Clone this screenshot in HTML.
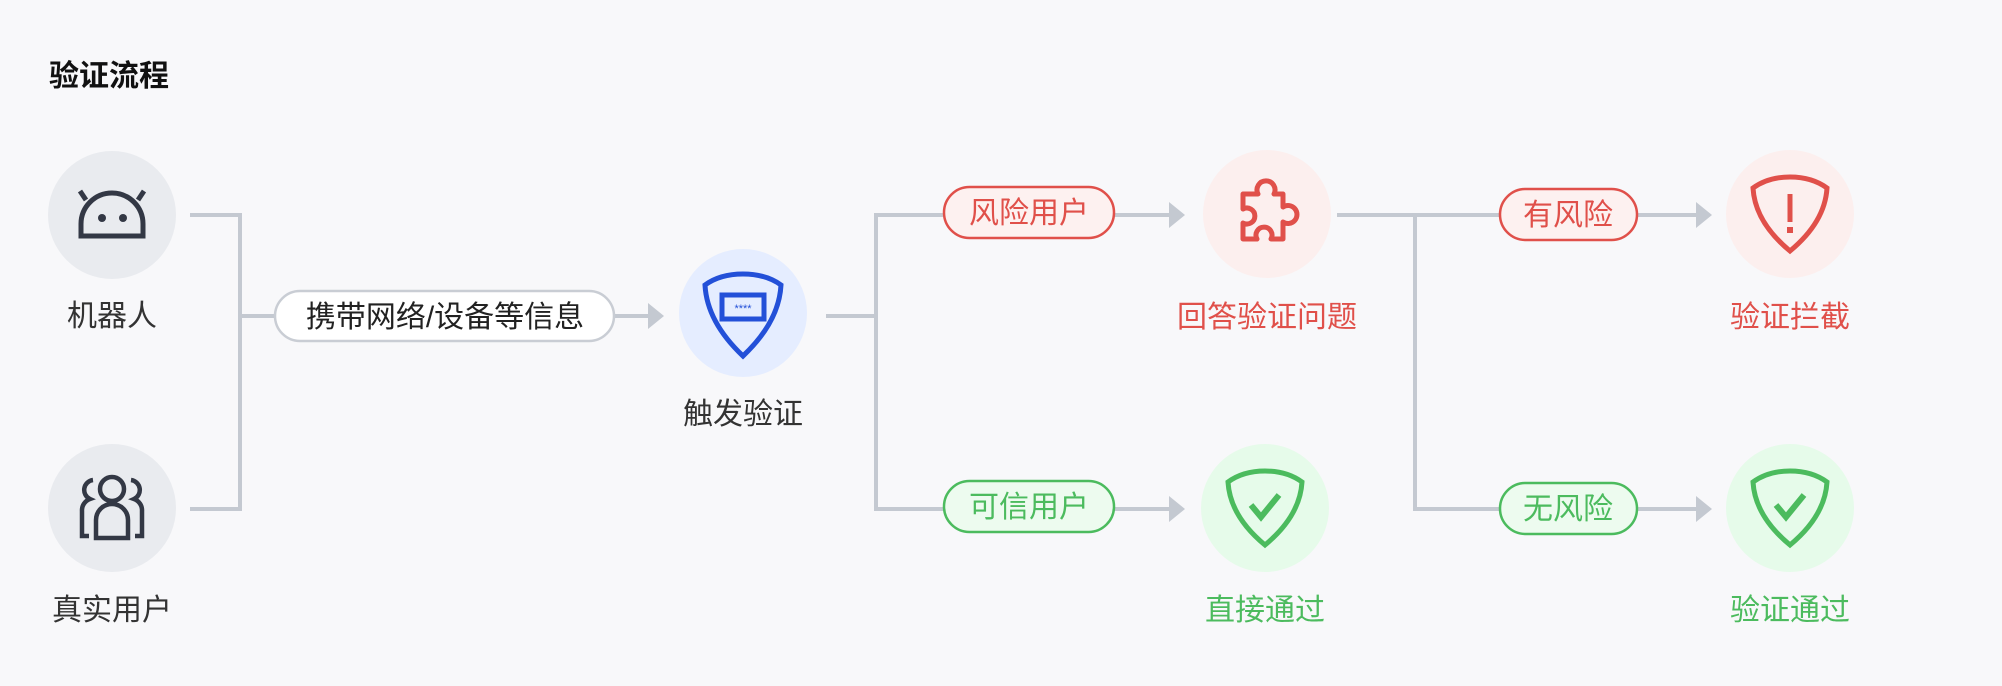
<!DOCTYPE html>
<html><head><meta charset="utf-8"><style>
html,body{margin:0;padding:0;background:#f8f8fa;}
svg{display:block}
text{font-family:"Liberation Sans","Noto Sans CJK SC",sans-serif;}
</style></head><body>
<svg width="2002" height="686" viewBox="0 0 2002 686" xmlns="http://www.w3.org/2000/svg">
<rect width="2002" height="686" fill="#f8f8fa"/>
<text x="49" y="86" font-size="30" font-weight="bold" fill="#111">验证流程</text>
<g stroke="#c4c9d1" stroke-width="4" fill="none">
<polyline points="190,215 240,215 240,509 190,509"/>
<line x1="240" y1="316" x2="276" y2="316"/>
<line x1="614" y1="316" x2="650" y2="316"/>
<line x1="826" y1="316" x2="876" y2="316"/>
<polyline points="943,215 876,215 876,509 943,509"/>
<line x1="1114" y1="215" x2="1172" y2="215"/>
<line x1="1114" y1="509" x2="1172" y2="509"/>
<line x1="1337" y1="215" x2="1502" y2="215"/>
<polyline points="1415,215 1415,509 1502,509"/>
<line x1="1637" y1="215" x2="1698" y2="215"/>
<line x1="1637" y1="509" x2="1698" y2="509"/>
</g>
<g fill="#c4c9d1">
<polygon points="648,303 664,316 648,329"/>
<polygon points="1169,202 1185,215 1169,228"/>
<polygon points="1169,496 1185,509 1169,522"/>
<polygon points="1696,202 1712,215 1696,228"/>
<polygon points="1696,496 1712,509 1696,522"/>
</g>
<rect x="275" y="291" width="339" height="50" rx="25" fill="#fff" stroke="#c9cdd4" stroke-width="2.5"/>
<text x="445" y="327" font-size="30" fill="#222" text-anchor="middle">携带网络/设备等信息</text>
<rect x="944" y="187" width="170" height="51" rx="25.5" fill="#fdf1f0" stroke="#e0504a" stroke-width="2.5"/>
<text x="1029" y="223" font-size="30" fill="#e0504a" text-anchor="middle">风险用户</text>
<rect x="944" y="481" width="170" height="51" rx="25.5" fill="#edfbef" stroke="#4cbb5e" stroke-width="2.5"/>
<text x="1029" y="517" font-size="30" fill="#4cbb5e" text-anchor="middle">可信用户</text>
<rect x="1500" y="189" width="137" height="51" rx="25.5" fill="#fdf1f0" stroke="#e0504a" stroke-width="2.5"/>
<text x="1568" y="225" font-size="30" fill="#e0504a" text-anchor="middle">有风险</text>
<rect x="1500" y="483" width="137" height="51" rx="25.5" fill="#edfbef" stroke="#4cbb5e" stroke-width="2.5"/>
<text x="1568" y="519" font-size="30" fill="#4cbb5e" text-anchor="middle">无风险</text>
<circle cx="112" cy="215" r="64" fill="#e9ebef"/>
<circle cx="112" cy="508" r="64" fill="#e9ebef"/>
<circle cx="743" cy="313" r="64" fill="#e5edff"/>
<circle cx="1267" cy="214" r="64" fill="#fcefee"/>
<circle cx="1265" cy="508" r="64" fill="#e6fbea"/>
<circle cx="1790" cy="214" r="64" fill="#fcefee"/>
<circle cx="1790" cy="508" r="64" fill="#e6fbea"/>
<g stroke="#333845" stroke-width="5" fill="none">
<path d="M81,236 L81,224 A31,31 0 0 1 143,224 L143,236 Z"/>
<line x1="86" y1="200" x2="80" y2="191"/><line x1="138" y1="200" x2="144" y2="191"/>
</g>
<circle cx="102" cy="218" r="4" fill="#333845"/><circle cx="123" cy="218" r="4" fill="#333845"/>
<g stroke="#333845" stroke-width="4.5" fill="none">
<circle cx="112" cy="489" r="12"/>
<path d="M96,538 L96,520 A16,16 0 0 1 128,520 L128,538 Z"/>
<path d="M93,480 A10,10 0 0 0 90,499 A12,12 0 0 0 82,511 L82,536 L89,536"/>
<path d="M131,480 A10,10 0 0 1 134,499 A12,12 0 0 1 142,511 L142,536 L135,536"/>
</g>
<path d="M743,274 Q766,274 781,285 Q779,322 743,356 Q707,322 705,285 Q720,274 743,274 Z" fill="none" stroke="#2350d8" stroke-width="5"/>
<rect x="722" y="295" width="42" height="24" fill="#e5edff" stroke="#2350d8" stroke-width="5"/>
<text x="743" y="312" font-size="11" fill="#2350d8" text-anchor="middle">****</text>
<path d="M1243,194 L1258,194 A9,9 0 1 1 1274,194 L1283,194 L1283,207 A9,9 0 1 1 1283,222 L1283,239 L1271,239 A8,8 0 1 0 1257,239 L1243,239 L1243,223 A8,8 0 1 0 1243,209 Z" fill="none" stroke="#e0504a" stroke-width="5" stroke-linejoin="round"/>
<path d="M1790,177 Q1812,177 1827,188 Q1825,222 1790,251 Q1755,222 1753,188 Q1768,177 1790,177 Z" fill="none" stroke="#e0504a" stroke-width="5"/>
<line x1="1790" y1="194" x2="1790" y2="222" stroke="#e0504a" stroke-width="5"/>
<rect x="1787" y="227" width="6" height="6" fill="#e0504a"/>
<g fill="none" stroke="#4cbb5e" stroke-width="5">
<path d="M1265,471 Q1287,471 1302,482 Q1300,516 1265,545 Q1230,516 1228,482 Q1243,471 1265,471 Z"/>
<polyline points="1251,505 1261,517 1279,495" stroke-width="6"/>
<path d="M1790,471 Q1812,471 1827,482 Q1825,516 1790,545 Q1755,516 1753,482 Q1768,471 1790,471 Z"/>
<polyline points="1776,505 1786,517 1804,495" stroke-width="6"/>
</g>
<g font-size="30" text-anchor="middle">
<text x="112" y="326" fill="#333">机器人</text>
<text x="112" y="620" fill="#333">真实用户</text>
<text x="743" y="424" fill="#333">触发验证</text>
<text x="1267" y="327" fill="#e0504a">回答验证问题</text>
<text x="1265" y="620" fill="#4cbb5e">直接通过</text>
<text x="1790" y="327" fill="#e0504a">验证拦截</text>
<text x="1790" y="620" fill="#4cbb5e">验证通过</text>
</g>
</svg>
</body></html>
